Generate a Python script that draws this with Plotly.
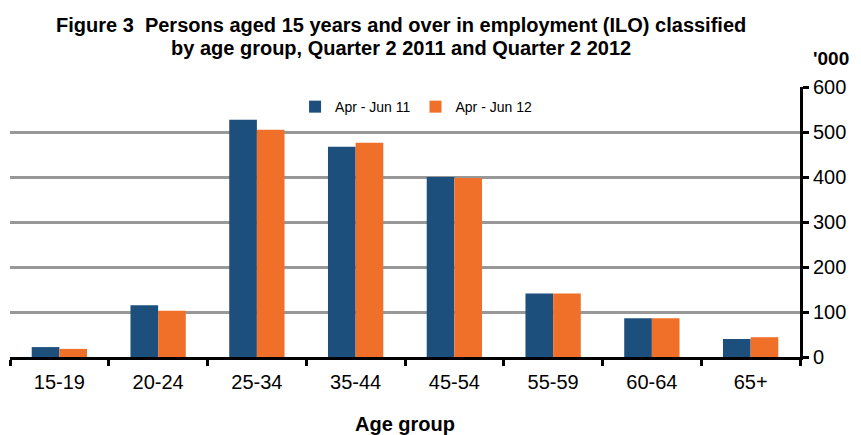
import plotly.graph_objects as go

categories = ["15-19", "20-24", "25-34", "35-44", "45-54", "55-59", "60-64", "65+"]
series_2011 = [22, 115, 527, 467, 400, 141, 86, 40]
series_2012 = [18, 103, 505, 476, 398, 141, 86, 44]
series_names = ["Apr - Jun 11", "Apr - Jun 12"]
y_ticks = [0, 100, 200, 300, 400, 500, 600]
title_lines = ["Figure 3  Persons aged 15 years and over in employment (ILO) classified",
               "by age group, Quarter 2 2011 and Quarter 2 2012"]

BLUE = "#1D4F7C"
ORANGE = "#F0702A"
FONT = "Liberation Sans, Arial, sans-serif"

# the page body has an 8px default margin, so the figure is 8px smaller
W, H = 853, 427

fig = go.Figure()
fig.add_trace(go.Bar(x=categories, y=series_2011, name=series_names[0],
                     marker=dict(color=BLUE, line=dict(width=0))))
fig.add_trace(go.Bar(x=categories, y=series_2012, name=series_names[1],
                     marker=dict(color=ORANGE, line=dict(width=0))))

fig.update_layout(
    width=W, height=H,
    margin=dict(l=2, r=61, t=79, b=78, autoexpand=False),
    paper_bgcolor="white", plot_bgcolor="white",
    barmode="group", bargap=0.44, bargroupgap=0,
    font=dict(family=FONT, color="black"),
    showlegend=True,
    legend=dict(orientation="h", x=0.514, y=0.985, xanchor="center", yanchor="top",
                font=dict(size=14), bgcolor="rgba(0,0,0,0)", itemwidth=30,
                traceorder="normal"),
    xaxis=dict(
        type="category", showgrid=False, automargin=False,
        showline=True, linecolor="black", linewidth=3,
        ticks="outside", tickson="boundaries", ticklen=6, tickwidth=3, tickcolor="black",
        tickfont=dict(size=20), ticklabelstandoff=5,
        title=dict(text="<b>Age group</b>", font=dict(size=20), standoff=25),
    ),
    yaxis=dict(
        side="right", range=[0, 600], tickvals=y_ticks, automargin=False,
        showgrid=True, gridcolor="#989898", gridwidth=3,
        showline=True, linecolor="black", linewidth=3,
        ticks="outside", ticklen=6, tickwidth=3, tickcolor="black",
        tickfont=dict(size=20), zeroline=False,
    ),
    annotations=[
        dict(text="<b>" + title_lines[0] + "</b>", xref="paper", yref="paper",
             x=0.495, y=1.2278, xanchor="center", yanchor="middle",
             showarrow=False, font=dict(size=20)),
        dict(text="<b>" + title_lines[1] + "</b>", xref="paper", yref="paper",
             x=0.495, y=1.1426, xanchor="center", yanchor="middle",
             showarrow=False, font=dict(size=20)),
        dict(text="<b>'000</b>", xref="paper", yref="paper",
             x=1.065, y=1.1056, xanchor="right", yanchor="middle",
             showarrow=False, font=dict(size=19)),
    ],
)

fig.write_html("out.html")
